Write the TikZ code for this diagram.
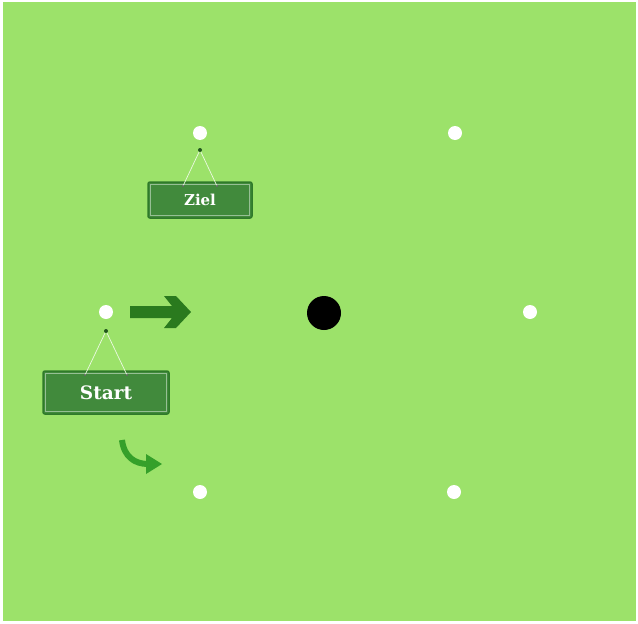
\documentclass[tikz,border=0pt]{standalone}
\usepackage{fontspec}
\newfontfamily\slab{DejaVu Serif}
\usetikzlibrary{arrows.meta}
\definecolor{bg}{HTML}{9CE26A}
\definecolor{boxfill}{HTML}{418A3C}
\definecolor{boxedge}{HTML}{2F7A2A}
\definecolor{darrow}{HTML}{2A7A1E}
\definecolor{carrow}{HTML}{35A02A}
\tikzset{
  pt/.style={circle,fill=white,draw=none,minimum size=14pt,inner sep=0pt},
  ball/.style={circle,fill=black,draw=none,minimum size=34pt,inner sep=0pt},
  sign/.style={rectangle,fill=boxfill,draw=boxedge,line width=1.5pt,rounded corners=2pt,
    text=white,inner sep=0pt},
  inner/.style={draw=white!45!boxfill,line width=0.9pt},
  hook/.style={circle,fill=boxedge!70!black,inner sep=0pt,minimum size=4pt},
  string/.style={draw=white!80!bg,line width=0.7pt},
}
\begin{document}
\begin{tikzpicture}[x=1pt,y=-1pt]
\useasboundingbox (0,0) rectangle (638,624);
\fill[white] (0,0) rectangle (638,624);
\fill[bg] (3,2) rectangle (636,621);
% white dots
\node[pt] (p1) at (200,133) {};
\node[pt] (p2) at (455,133) {};
\node[pt] (p3) at (106,312) {};
\node[pt] (p4) at (530,312) {};
\node[pt] (p5) at (200,492) {};
\node[pt] (p6) at (454,492) {};
\node[ball] (b) at (324,313) {};
% signs
\node[sign,minimum width=104pt,minimum height=36pt,font=\slab\bfseries\fontsize{15}{18}\selectfont] (ziel) at (200,200) {Ziel};
\node[sign,minimum width=126pt,minimum height=43pt,font=\slab\bfseries\fontsize{18.5}{22}\selectfont] (start) at (106,392.5) {Start};
\draw[inner] ([xshift=3pt,yshift=-3pt]ziel.north west) rectangle ([xshift=-3pt,yshift=3pt]ziel.south east);
\draw[inner] ([xshift=3pt,yshift=-3pt]start.north west) rectangle ([xshift=-3pt,yshift=3pt]start.south east);
\coordinate (zh) at (200,150);
\coordinate (sh) at (106,331);
\coordinate (z1) at (183,186);
\coordinate (z2) at (217,186);
\coordinate (s1) at (85,375);
\coordinate (s2) at (127,375);
\draw[string] (z1) -- (zh) -- (z2);
\draw[string] (s1) -- (sh) -- (s2);
\node[hook] at (zh) {};
\node[hook] at (sh) {};
\fill[gray!80!black] (z1) circle (1.2pt) (z2) circle (1.2pt) (s1) circle (1.2pt) (s2) circle (1.2pt);
% straight arrow
\fill[darrow] (130,306) -- (172,306) -- (164,296) -- (176,296) -- (191,312) -- (176,328) -- (164,328) -- (172,318) -- (130,318) -- cycle;
% curved arrow
\coordinate (c0) at (122,440);
\coordinate (c1) at (148,464);
\draw[carrow,line width=6pt] (c0) .. controls (124,457) and (135,464) .. (c1);
\fill[carrow] (146,454) -- (162,464) -- (146,474) -- cycle;
\end{tikzpicture}
\end{document}
